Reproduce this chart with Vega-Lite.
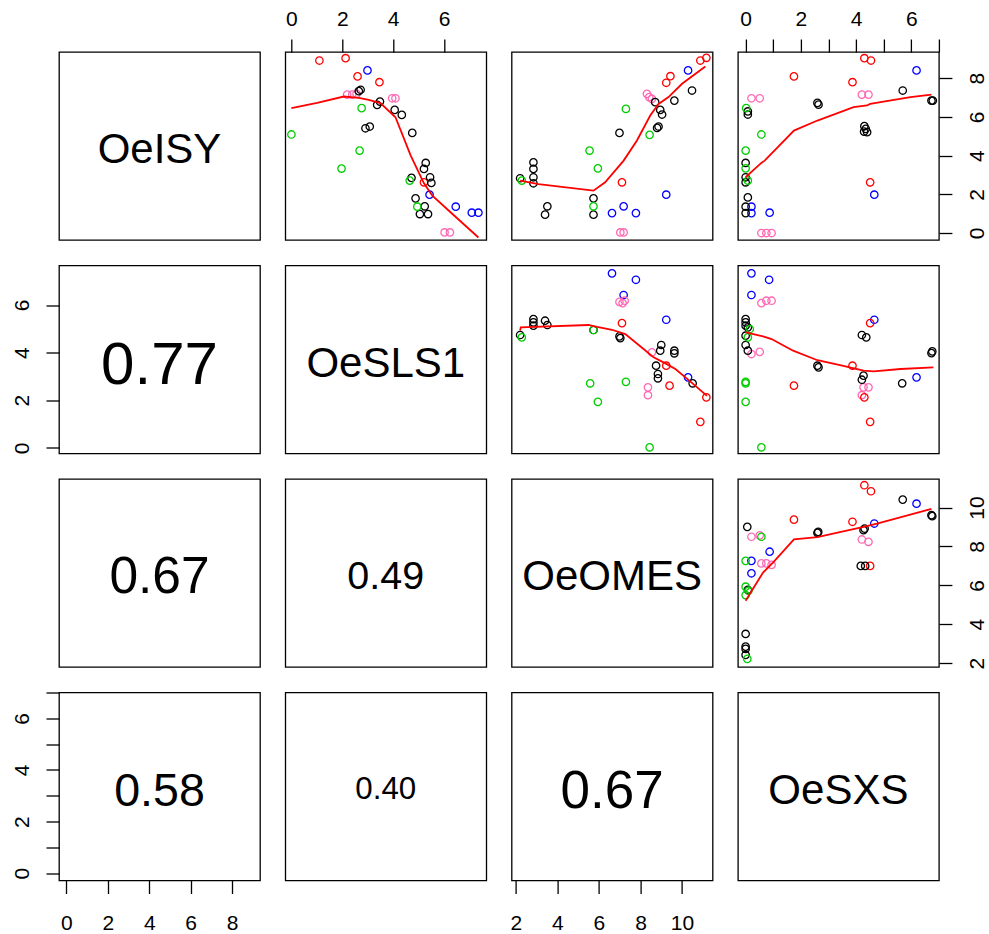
{
  "$schema": "https://vega.github.io/schema/vega-lite/v6.json",
  "background": "white",
  "padding": {"left": 10, "top": 7, "right": 0, "bottom": 3},
  "columns": 4,
  "spacing": {"row": 25.5, "column": 25.3},
  "bounds": "flush",
  "config": {
    "view": {"stroke": "black", "strokeWidth": 1.3},
    "axis": {"domain": false, "grid": false, "ticks": true, "tickColor": "black", "tickWidth": 1.3, "tickSize": 13, "labelFont": "Liberation Sans", "labelFontSize": 21, "labelColor": "black", "labelOverlap": false, "labelFlush": false, "labelBound": false},
    "axisLeft": {"labelAngle": -90, "labelAlign": "center", "labelBaseline": "bottom", "labelPadding": 14},
    "axisRight": {"labelAngle": -90, "labelAlign": "center", "labelBaseline": "top", "labelPadding": 15},
    "axisTop": {"labelAngle": 0, "labelAlign": "center", "labelBaseline": "bottom", "labelPadding": 10},
    "axisBottom": {"labelAngle": 0, "labelAlign": "center", "labelBaseline": "top", "labelPadding": 19},
    "text": {"font": "Liberation Sans", "color": "black", "align": "center", "baseline": "middle"}
  },
  "datasets": {
    "p12": [
      {"x":1.10,"y":8.91,"g":"r"},{"x":2.13,"y":9.03,"g":"r"},{"x":2.60,"y":8.09,"g":"r"},{"x":3.46,"y":7.79,"g":"r"},{"x":5.21,"y":2.62,"g":"r"},
      {"x":2.99,"y":8.40,"g":"b"},{"x":5.43,"y":1.98,"g":"b"},{"x":6.46,"y":1.36,"g":"b"},{"x":7.09,"y":1.05,"g":"b"},{"x":7.35,"y":1.05,"g":"b"},
      {"x":2.19,"y":7.15,"g":"p"},{"x":2.39,"y":7.15,"g":"p"},{"x":2.56,"y":7.19,"g":"p"},{"x":3.96,"y":6.96,"g":"p"},{"x":4.09,"y":6.96,"g":"p"},{"x":6.02,"y":0.03,"g":"p"},{"x":6.23,"y":0.03,"g":"p"},
      {"x":2.72,"y":7.40,"g":"k"},{"x":2.65,"y":7.33,"g":"k"},{"x":3.48,"y":6.79,"g":"k"},{"x":3.37,"y":6.62,"g":"k"},{"x":4.06,"y":6.36,"g":"k"},{"x":4.34,"y":6.10,"g":"k"},{"x":2.91,"y":5.41,"g":"k"},{"x":3.08,"y":5.50,"g":"k"},{"x":4.75,"y":5.17,"g":"k"},{"x":5.28,"y":3.62,"g":"k"},{"x":5.21,"y":3.31,"g":"k"},{"x":5.45,"y":2.88,"g":"k"},{"x":5.50,"y":2.59,"g":"k"},{"x":4.72,"y":2.85,"g":"k"},{"x":4.88,"y":1.79,"g":"k"},{"x":5.24,"y":1.38,"g":"k"},{"x":5.05,"y":0.98,"g":"k"},{"x":5.37,"y":0.98,"g":"k"},
      {"x":0.00,"y":5.09,"g":"g"},{"x":2.76,"y":6.45,"g":"g"},{"x":2.68,"y":4.26,"g":"g"},{"x":1.97,"y":3.33,"g":"g"},{"x":4.65,"y":2.71,"g":"g"},{"x":4.95,"y":1.36,"g":"g"}
    ],
    "l12": [
      {"x":0.00,"y":6.45},{"x":1.01,"y":6.72},{"x":2.06,"y":7.05},{"x":2.65,"y":6.98},{"x":3.04,"y":6.88},{"x":3.50,"y":6.71},{"x":4.09,"y":5.98},{"x":4.69,"y":4.00},{"x":5.21,"y":2.57},{"x":5.54,"y":1.93},{"x":6.19,"y":1.15},{"x":7.35,"y":-0.23}
    ],
    "p13": [
      {"x":10.88,"y":8.91,"g":"r"},{"x":11.17,"y":9.05,"g":"r"},{"x":9.24,"y":7.76,"g":"r"},{"x":9.44,"y":8.10,"g":"r"},{"x":7.11,"y":2.62,"g":"r"},
      {"x":10.29,"y":8.40,"g":"b"},{"x":9.24,"y":1.98,"g":"b"},{"x":6.63,"y":1.03,"g":"b"},{"x":7.19,"y":1.38,"g":"b"},{"x":7.78,"y":1.03,"g":"b"},
      {"x":8.31,"y":7.19,"g":"p"},{"x":8.42,"y":7.02,"g":"p"},{"x":8.55,"y":6.93,"g":"p"},{"x":7.03,"y":0.03,"g":"p"},{"x":7.19,"y":0.03,"g":"p"},
      {"x":8.71,"y":6.76,"g":"k"},{"x":8.95,"y":6.36,"g":"k"},{"x":9.04,"y":6.12,"g":"k"},{"x":8.80,"y":5.43,"g":"k"},{"x":8.87,"y":5.50,"g":"k"},{"x":9.63,"y":6.84,"g":"k"},{"x":10.48,"y":7.36,"g":"k"},{"x":6.99,"y":5.17,"g":"k"},{"x":2.85,"y":3.65,"g":"k"},{"x":2.85,"y":3.31,"g":"k"},{"x":2.85,"y":2.88,"g":"k"},{"x":2.85,"y":2.57,"g":"k"},{"x":2.21,"y":2.83,"g":"k"},{"x":3.52,"y":1.38,"g":"k"},{"x":3.41,"y":0.95,"g":"k"},{"x":5.74,"y":1.79,"g":"k"},{"x":5.74,"y":0.95,"g":"k"},
      {"x":2.29,"y":2.71,"g":"g"},{"x":7.30,"y":6.41,"g":"g"},{"x":5.55,"y":4.26,"g":"g"},{"x":5.95,"y":3.34,"g":"g"},{"x":8.44,"y":5.07,"g":"g"},{"x":5.74,"y":1.38,"g":"g"}
    ],
    "l13": [
      {"x":2.21,"y":2.71},{"x":3.09,"y":2.53},{"x":5.74,"y":2.19},{"x":6.30,"y":2.62},{"x":7.19,"y":3.74},{"x":7.83,"y":4.78},{"x":8.47,"y":6.07},{"x":8.87,"y":6.67},{"x":9.35,"y":7.02},{"x":10.00,"y":7.71},{"x":11.12,"y":8.60}
    ],
    "p14": [
      {"x":4.30,"y":9.03,"g":"r"},{"x":4.54,"y":8.91,"g":"r"},{"x":1.75,"y":8.09,"g":"r"},{"x":3.87,"y":7.79,"g":"r"},{"x":4.51,"y":2.62,"g":"r"},
      {"x":6.19,"y":8.40,"g":"b"},{"x":4.66,"y":1.98,"g":"b"},{"x":0.21,"y":1.36,"g":"b"},{"x":0.21,"y":1.03,"g":"b"},{"x":0.87,"y":1.05,"g":"b"},
      {"x":0.21,"y":6.96,"g":"p"},{"x":0.51,"y":6.96,"g":"p"},{"x":4.21,"y":7.15,"g":"p"},{"x":4.45,"y":7.15,"g":"p"},{"x":0.57,"y":0.00,"g":"p"},{"x":0.75,"y":0.00,"g":"p"},{"x":0.94,"y":0.00,"g":"p"},
      {"x":0.08,"y":6.28,"g":"k"},{"x":0.08,"y":6.12,"g":"k"},{"x":2.60,"y":6.72,"g":"k"},{"x":2.64,"y":6.63,"g":"k"},{"x":5.69,"y":7.36,"g":"k"},{"x":6.73,"y":6.84,"g":"k"},{"x":6.78,"y":6.84,"g":"k"},{"x":4.30,"y":5.52,"g":"k"},{"x":4.35,"y":5.38,"g":"k"},{"x":4.29,"y":5.24,"g":"k"},{"x":4.40,"y":5.21,"g":"k"},{"x":0.00,"y":3.62,"g":"k"},{"x":0.00,"y":2.88,"g":"k"},{"x":0.00,"y":2.62,"g":"k"},{"x":0.08,"y":1.84,"g":"k"},{"x":0.00,"y":1.36,"g":"k"},{"x":0.00,"y":1.03,"g":"k"},
      {"x":0.02,"y":6.45,"g":"g"},{"x":0.00,"y":4.26,"g":"g"},{"x":0.00,"y":3.34,"g":"g"},{"x":0.08,"y":2.71,"g":"g"},{"x":0.57,"y":5.09,"g":"g"}
    ],
    "l14": [
      {"x":0.00,"y":2.88},{"x":0.33,"y":3.31},{"x":0.57,"y":3.62},{"x":0.69,"y":3.74},{"x":1.75,"y":5.29},{"x":2.60,"y":5.81},{"x":3.91,"y":6.50},{"x":4.40,"y":6.59},{"x":4.51,"y":6.67},{"x":5.97,"y":7.02},{"x":6.73,"y":7.15}
    ],
    "p23": [
      {"x":6.63,"y":7.33,"g":"b"},{"x":7.78,"y":7.06,"g":"b"},{"x":7.19,"y":6.42,"g":"b"},{"x":9.24,"y":5.38,"g":"b"},{"x":10.29,"y":2.96,"g":"b"},
      {"x":6.99,"y":6.13,"g":"p"},{"x":7.14,"y":6.08,"g":"p"},{"x":7.24,"y":6.18,"g":"p"},{"x":8.55,"y":4.01,"g":"p"},{"x":8.36,"y":2.54,"g":"p"},{"x":8.36,"y":2.21,"g":"p"},
      {"x":7.11,"y":5.24,"g":"r"},{"x":9.24,"y":3.45,"g":"r"},{"x":9.40,"y":2.61,"g":"r"},{"x":11.17,"y":2.12,"g":"r"},{"x":10.88,"y":1.09,"g":"r"},
      {"x":2.85,"y":5.41,"g":"k"},{"x":2.85,"y":5.27,"g":"k"},{"x":2.85,"y":5.13,"g":"k"},{"x":3.41,"y":5.34,"g":"k"},{"x":3.52,"y":5.16,"g":"k"},{"x":2.21,"y":4.74,"g":"k"},{"x":5.74,"y":4.95,"g":"k"},{"x":6.99,"y":4.68,"g":"k"},{"x":7.03,"y":4.61,"g":"k"},{"x":9.00,"y":4.32,"g":"k"},{"x":8.95,"y":4.08,"g":"k"},{"x":9.63,"y":4.08,"g":"k"},{"x":9.63,"y":3.97,"g":"k"},{"x":8.75,"y":3.45,"g":"k"},{"x":8.84,"y":3.10,"g":"k"},{"x":8.84,"y":2.92,"g":"k"},{"x":10.51,"y":2.71,"g":"k"},
      {"x":2.29,"y":4.64,"g":"g"},{"x":5.74,"y":4.95,"g":"g"},{"x":5.58,"y":2.71,"g":"g"},{"x":5.95,"y":1.93,"g":"g"},{"x":7.30,"y":2.77,"g":"g"},{"x":8.44,"y":0.02,"g":"g"}
    ],
    "l23": [
      {"x":2.21,"y":4.92},{"x":2.24,"y":5.06},{"x":5.50,"y":5.16},{"x":5.91,"y":5.08},{"x":6.63,"y":4.96},{"x":7.27,"y":4.78},{"x":8.15,"y":4.15},{"x":8.63,"y":3.80},{"x":9.11,"y":3.59},{"x":9.68,"y":3.31},{"x":10.35,"y":2.82},{"x":11.20,"y":2.18}
    ],
    "p24": [
      {"x":0.21,"y":7.33,"g":"b"},{"x":0.85,"y":7.06,"g":"b"},{"x":0.21,"y":6.42,"g":"b"},{"x":4.66,"y":5.38,"g":"b"},{"x":6.19,"y":2.96,"g":"b"},
      {"x":0.57,"y":6.08,"g":"p"},{"x":0.75,"y":6.18,"g":"p"},{"x":0.94,"y":6.18,"g":"p"},{"x":0.21,"y":3.94,"g":"p"},{"x":0.51,"y":4.03,"g":"p"},{"x":4.27,"y":2.54,"g":"p"},{"x":4.45,"y":2.54,"g":"p"},{"x":4.21,"y":2.21,"g":"p"},
      {"x":4.51,"y":5.24,"g":"r"},{"x":3.87,"y":3.45,"g":"r"},{"x":1.75,"y":2.61,"g":"r"},{"x":4.30,"y":2.12,"g":"r"},{"x":4.51,"y":1.09,"g":"r"},
      {"x":0.00,"y":5.41,"g":"k"},{"x":0.00,"y":5.27,"g":"k"},{"x":0.00,"y":5.13,"g":"k"},{"x":0.08,"y":5.06,"g":"k"},{"x":0.00,"y":4.71,"g":"k"},{"x":0.00,"y":4.32,"g":"k"},{"x":0.08,"y":4.08,"g":"k"},{"x":4.21,"y":4.74,"g":"k"},{"x":4.37,"y":4.64,"g":"k"},{"x":2.60,"y":3.45,"g":"k"},{"x":2.64,"y":3.38,"g":"k"},{"x":4.27,"y":3.03,"g":"k"},{"x":4.21,"y":2.86,"g":"k"},{"x":5.67,"y":2.71,"g":"k"},{"x":6.73,"y":3.98,"g":"k"},{"x":6.76,"y":4.05,"g":"k"},
      {"x":0.15,"y":4.99,"g":"g"},{"x":0.08,"y":4.64,"g":"g"},{"x":0.00,"y":2.77,"g":"g"},{"x":0.00,"y":2.71,"g":"g"},{"x":0.00,"y":1.93,"g":"g"},{"x":0.57,"y":0.02,"g":"g"}
    ],
    "l24": [
      {"x":0.00,"y":4.85},{"x":0.63,"y":4.68},{"x":0.94,"y":4.57},{"x":1.72,"y":4.08},{"x":2.60,"y":3.68},{"x":3.42,"y":3.47},{"x":4.27,"y":3.24},{"x":4.64,"y":3.21},{"x":5.61,"y":3.31},{"x":6.80,"y":3.38}
    ],
    "p34": [
      {"x":4.30,"y":11.15,"g":"r"},{"x":4.54,"y":10.84,"g":"r"},{"x":1.75,"y":9.38,"g":"r"},{"x":3.87,"y":9.27,"g":"r"},{"x":4.51,"y":7.00,"g":"r"},
      {"x":6.19,"y":10.20,"g":"b"},{"x":4.66,"y":9.18,"g":"b"},{"x":0.87,"y":7.73,"g":"b"},{"x":0.21,"y":7.26,"g":"b"},{"x":0.21,"y":6.62,"g":"b"},
      {"x":0.21,"y":8.50,"g":"p"},{"x":0.51,"y":8.57,"g":"p"},{"x":4.21,"y":8.36,"g":"p"},{"x":4.45,"y":8.24,"g":"p"},{"x":0.57,"y":7.13,"g":"p"},{"x":0.75,"y":7.13,"g":"p"},{"x":0.94,"y":7.05,"g":"p"},
      {"x":0.06,"y":9.01,"g":"k"},{"x":2.60,"y":8.70,"g":"k"},{"x":2.63,"y":8.75,"g":"k"},{"x":5.69,"y":10.41,"g":"k"},{"x":6.73,"y":9.61,"g":"k"},{"x":6.76,"y":9.56,"g":"k"},{"x":4.17,"y":7.00,"g":"k"},{"x":4.33,"y":7.00,"g":"k"},{"x":4.27,"y":8.84,"g":"k"},{"x":4.31,"y":8.92,"g":"k"},{"x":0.00,"y":3.50,"g":"k"},{"x":0.00,"y":2.85,"g":"k"},{"x":0.00,"y":2.73,"g":"k"},{"x":0.00,"y":2.42,"g":"k"},{"x":0.08,"y":5.77,"g":"k"},
      {"x":0.00,"y":7.26,"g":"g"},{"x":0.00,"y":5.93,"g":"g"},{"x":0.00,"y":5.50,"g":"g"},{"x":0.10,"y":5.72,"g":"g"},{"x":0.57,"y":8.50,"g":"g"},{"x":0.06,"y":2.22,"g":"g"}
    ],
    "l34": [
      {"x":0.00,"y":5.21},{"x":0.15,"y":5.55},{"x":0.63,"y":6.66},{"x":0.99,"y":7.17},{"x":1.75,"y":8.36},{"x":2.60,"y":8.48},{"x":4.27,"y":9.01},{"x":4.76,"y":9.18},{"x":6.73,"y":9.93}
    ]
  },
  "concat": [
    {"width": 201, "height": 188,
      "layer": [
        {"data": {"name": "p12"}, "mark": {"type": "point", "opacity": 0},
          "encoding": {
            "x": {"field": "y", "type": "quantitative", "scale": {"domain": [-0.36, 9.35], "nice": false, "zero": false}, "axis": null},
            "y": {"field": "y", "type": "quantitative", "scale": {"domain": [-0.36, 9.35], "nice": false, "zero": false}, "axis": null}
          }},
        {"data": {"values": [{"t": "OeISY"}]}, "mark": {"type": "text", "fontSize": 42, "dy": 4}, "encoding": {"text": {"field": "t"}}}
      ]
    },
    {"width": 201, "height": 188,
      "encoding": {
        "x": {"field": "x", "type": "quantitative", "scale": {"domain": [-0.24, 7.66], "nice": false, "zero": false}, "axis": {"orient": "top", "values": [0, 2, 4, 6], "title": null}},
        "y": {"field": "y", "type": "quantitative", "scale": {"domain": [-0.36, 9.35], "nice": false, "zero": false}, "axis": null}
      },
      "layer": [
        {"data": {"name": "p12"}, "mark": {"type": "point", "filled": false, "size": 55, "strokeWidth": 1.3, "opacity": 1},
          "encoding": {"color": {"field": "g", "type": "nominal", "scale": {"domain": ["k", "r", "g", "b", "p"], "range": ["#000000", "#FF0000", "#00CD00", "#0000FF", "#FF69B4"]}, "legend": null}}},
        {"data": {"name": "l12"}, "mark": {"type": "line", "color": "#FF0000", "strokeWidth": 1.8, "clip": true}}
      ]
    },
    {"width": 201, "height": 188,
      "encoding": {
        "x": {"field": "x", "type": "quantitative", "scale": {"domain": [1.8, 11.47], "nice": false, "zero": false}, "axis": null},
        "y": {"field": "y", "type": "quantitative", "scale": {"domain": [-0.36, 9.35], "nice": false, "zero": false}, "axis": null}
      },
      "layer": [
        {"data": {"name": "p13"}, "mark": {"type": "point", "filled": false, "size": 55, "strokeWidth": 1.3, "opacity": 1},
          "encoding": {"color": {"field": "g", "type": "nominal", "scale": {"domain": ["k", "r", "g", "b", "p"], "range": ["#000000", "#FF0000", "#00CD00", "#0000FF", "#FF69B4"]}, "legend": null}}},
        {"data": {"name": "l13"}, "mark": {"type": "line", "color": "#FF0000", "strokeWidth": 1.8, "clip": true}}
      ]
    },
    {"width": 201, "height": 188,
      "encoding": {
        "x": {"field": "x", "type": "quantitative", "scale": {"domain": [-0.28, 7.0], "nice": false, "zero": false}, "axis": {"orient": "top", "values": [0, 1, 2, 3, 4, 5, 6, 7], "labelExpr": "datum.value % 2 == 0 ? datum.label : ''", "title": null}},
        "y": {"field": "y", "type": "quantitative", "scale": {"domain": [-0.36, 9.35], "nice": false, "zero": false}, "axis": {"orient": "right", "values": [0, 2, 4, 6, 8], "title": null}}
      },
      "layer": [
        {"data": {"name": "p14"}, "mark": {"type": "point", "filled": false, "size": 55, "strokeWidth": 1.3, "opacity": 1},
          "encoding": {"color": {"field": "g", "type": "nominal", "scale": {"domain": ["k", "r", "g", "b", "p"], "range": ["#000000", "#FF0000", "#00CD00", "#0000FF", "#FF69B4"]}, "legend": null}}},
        {"data": {"name": "l14"}, "mark": {"type": "line", "color": "#FF0000", "strokeWidth": 1.8, "clip": true}}
      ]
    },
    {"width": 201, "height": 188,
      "layer": [
        {"data": {"name": "p12"}, "mark": {"type": "point", "opacity": 0},
          "encoding": {
            "x": {"field": "y", "type": "quantitative", "scale": {"domain": [-0.36, 9.35], "nice": false, "zero": false}, "axis": null},
            "y": {"field": "x", "type": "quantitative", "scale": {"domain": [-0.24, 7.66], "nice": false, "zero": false}, "axis": {"orient": "left", "values": [0, 2, 4, 6], "title": null}}
          }},
        {"data": {"values": [{"t": "0.77"}]}, "mark": {"type": "text", "fontSize": 60, "dy": 6}, "encoding": {"text": {"field": "t"}}}
      ]
    },
    {"width": 201, "height": 188,
      "layer": [
        {"data": {"name": "p12"}, "mark": {"type": "point", "opacity": 0},
          "encoding": {
            "x": {"field": "x", "type": "quantitative", "scale": {"domain": [-0.24, 7.66], "nice": false, "zero": false}, "axis": null},
            "y": {"field": "x", "type": "quantitative", "scale": {"domain": [-0.24, 7.66], "nice": false, "zero": false}, "axis": null}
          }},
        {"data": {"values": [{"t": "OeSLS1"}]}, "mark": {"type": "text", "fontSize": 42, "dy": 4}, "encoding": {"text": {"field": "t"}}}
      ]
    },
    {"width": 201, "height": 188,
      "encoding": {
        "x": {"field": "x", "type": "quantitative", "scale": {"domain": [1.8, 11.47], "nice": false, "zero": false}, "axis": null},
        "y": {"field": "y", "type": "quantitative", "scale": {"domain": [-0.24, 7.66], "nice": false, "zero": false}, "axis": null}
      },
      "layer": [
        {"data": {"name": "p23"}, "mark": {"type": "point", "filled": false, "size": 55, "strokeWidth": 1.3, "opacity": 1},
          "encoding": {"color": {"field": "g", "type": "nominal", "scale": {"domain": ["k", "r", "g", "b", "p"], "range": ["#000000", "#FF0000", "#00CD00", "#0000FF", "#FF69B4"]}, "legend": null}}},
        {"data": {"name": "l23"}, "mark": {"type": "line", "color": "#FF0000", "strokeWidth": 1.8, "clip": true}}
      ]
    },
    {"width": 201, "height": 188,
      "encoding": {
        "x": {"field": "x", "type": "quantitative", "scale": {"domain": [-0.28, 7.0], "nice": false, "zero": false}, "axis": null},
        "y": {"field": "y", "type": "quantitative", "scale": {"domain": [-0.24, 7.66], "nice": false, "zero": false}, "axis": null}
      },
      "layer": [
        {"data": {"name": "p24"}, "mark": {"type": "point", "filled": false, "size": 55, "strokeWidth": 1.3, "opacity": 1},
          "encoding": {"color": {"field": "g", "type": "nominal", "scale": {"domain": ["k", "r", "g", "b", "p"], "range": ["#000000", "#FF0000", "#00CD00", "#0000FF", "#FF69B4"]}, "legend": null}}},
        {"data": {"name": "l24"}, "mark": {"type": "line", "color": "#FF0000", "strokeWidth": 1.8, "clip": true}}
      ]
    },
    {"width": 201, "height": 188,
      "layer": [
        {"data": {"name": "p13"}, "mark": {"type": "point", "opacity": 0},
          "encoding": {
            "x": {"field": "y", "type": "quantitative", "scale": {"domain": [-0.36, 9.35], "nice": false, "zero": false}, "axis": null},
            "y": {"field": "x", "type": "quantitative", "scale": {"domain": [1.8, 11.47], "nice": false, "zero": false}, "axis": null}
          }},
        {"data": {"values": [{"t": "0.67"}]}, "mark": {"type": "text", "fontSize": 51.5, "dy": 5}, "encoding": {"text": {"field": "t"}}}
      ]
    },
    {"width": 201, "height": 188,
      "layer": [
        {"data": {"name": "p23"}, "mark": {"type": "point", "opacity": 0},
          "encoding": {
            "x": {"field": "y", "type": "quantitative", "scale": {"domain": [-0.24, 7.66], "nice": false, "zero": false}, "axis": null},
            "y": {"field": "x", "type": "quantitative", "scale": {"domain": [1.8, 11.47], "nice": false, "zero": false}, "axis": null}
          }},
        {"data": {"values": [{"t": "0.49"}]}, "mark": {"type": "text", "fontSize": 39.5, "dy": 4}, "encoding": {"text": {"field": "t"}}}
      ]
    },
    {"width": 201, "height": 188,
      "layer": [
        {"data": {"name": "p13"}, "mark": {"type": "point", "opacity": 0},
          "encoding": {
            "x": {"field": "x", "type": "quantitative", "scale": {"domain": [1.8, 11.47], "nice": false, "zero": false}, "axis": null},
            "y": {"field": "x", "type": "quantitative", "scale": {"domain": [1.8, 11.47], "nice": false, "zero": false}, "axis": null}
          }},
        {"data": {"values": [{"t": "OeOMES"}]}, "mark": {"type": "text", "fontSize": 42, "dy": 4}, "encoding": {"text": {"field": "t"}}}
      ]
    },
    {"width": 201, "height": 188,
      "encoding": {
        "x": {"field": "x", "type": "quantitative", "scale": {"domain": [-0.28, 7.0], "nice": false, "zero": false}, "axis": null},
        "y": {"field": "y", "type": "quantitative", "scale": {"domain": [1.8, 11.47], "nice": false, "zero": false}, "axis": {"orient": "right", "values": [2, 4, 6, 8, 10], "title": null}}
      },
      "layer": [
        {"data": {"name": "p34"}, "mark": {"type": "point", "filled": false, "size": 55, "strokeWidth": 1.3, "opacity": 1},
          "encoding": {"color": {"field": "g", "type": "nominal", "scale": {"domain": ["k", "r", "g", "b", "p"], "range": ["#000000", "#FF0000", "#00CD00", "#0000FF", "#FF69B4"]}, "legend": null}}},
        {"data": {"name": "l34"}, "mark": {"type": "line", "color": "#FF0000", "strokeWidth": 1.8, "clip": true}}
      ]
    },
    {"width": 201, "height": 188,
      "layer": [
        {"data": {"name": "p14"}, "mark": {"type": "point", "opacity": 0},
          "encoding": {
            "x": {"field": "y", "type": "quantitative", "scale": {"domain": [-0.36, 9.35], "nice": false, "zero": false}, "axis": {"orient": "bottom", "values": [0, 2, 4, 6, 8], "title": null}},
            "y": {"field": "x", "type": "quantitative", "scale": {"domain": [-0.28, 7.0], "nice": false, "zero": false}, "axis": {"orient": "left", "values": [0, 1, 2, 3, 4, 5, 6, 7], "labelExpr": "datum.value % 2 == 0 ? datum.label : ''", "title": null}}
          }},
        {"data": {"values": [{"t": "0.58"}]}, "mark": {"type": "text", "fontSize": 46.6, "dy": 5}, "encoding": {"text": {"field": "t"}}}
      ]
    },
    {"width": 201, "height": 188,
      "layer": [
        {"data": {"name": "p24"}, "mark": {"type": "point", "opacity": 0},
          "encoding": {
            "x": {"field": "y", "type": "quantitative", "scale": {"domain": [-0.24, 7.66], "nice": false, "zero": false}, "axis": null},
            "y": {"field": "x", "type": "quantitative", "scale": {"domain": [-0.28, 7.0], "nice": false, "zero": false}, "axis": null}
          }},
        {"data": {"values": [{"t": "0.40"}]}, "mark": {"type": "text", "fontSize": 31.3, "dy": 3}, "encoding": {"text": {"field": "t"}}}
      ]
    },
    {"width": 201, "height": 188,
      "layer": [
        {"data": {"name": "p34"}, "mark": {"type": "point", "opacity": 0},
          "encoding": {
            "x": {"field": "y", "type": "quantitative", "scale": {"domain": [1.8, 11.47], "nice": false, "zero": false}, "axis": {"orient": "bottom", "values": [2, 4, 6, 8, 10], "title": null}},
            "y": {"field": "x", "type": "quantitative", "scale": {"domain": [-0.28, 7.0], "nice": false, "zero": false}, "axis": null}
          }},
        {"data": {"values": [{"t": "0.67"}]}, "mark": {"type": "text", "fontSize": 53, "dy": 5}, "encoding": {"text": {"field": "t"}}}
      ]
    },
    {"width": 201, "height": 188,
      "layer": [
        {"data": {"name": "p14"}, "mark": {"type": "point", "opacity": 0},
          "encoding": {
            "x": {"field": "x", "type": "quantitative", "scale": {"domain": [-0.28, 7.0], "nice": false, "zero": false}, "axis": null},
            "y": {"field": "x", "type": "quantitative", "scale": {"domain": [-0.28, 7.0], "nice": false, "zero": false}, "axis": null}
          }},
        {"data": {"values": [{"t": "OeSXS"}]}, "mark": {"type": "text", "fontSize": 42, "dy": 4}, "encoding": {"text": {"field": "t"}}}
      ]
    }
  ]
}
